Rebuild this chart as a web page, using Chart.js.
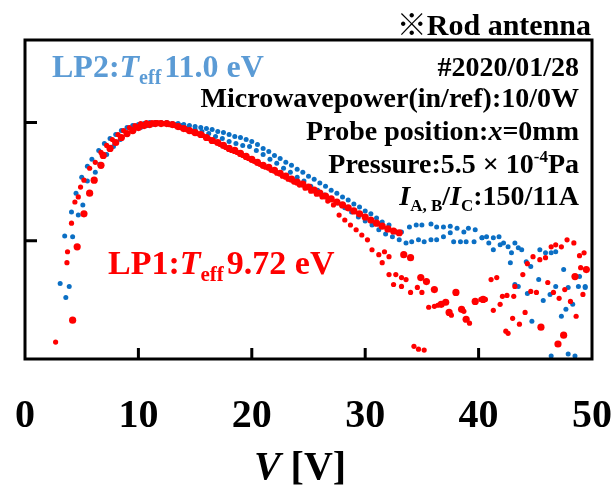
<!DOCTYPE html>
<html>
<head>
<meta charset="utf-8">
<script src="https://cdn.jsdelivr.net/npm/chart.js@4.4.1/dist/chart.umd.min.js"></script>
<style>
  html, body { margin: 0; padding: 0; background: #fff; }
  #wrap { width: 616px; height: 487px; }
</style>
</head>
<body>
<div id="wrap"><canvas id="myChart" width="616" height="487"></canvas></div>
<script>
// LP1 (red), first sweep - bigger dots
const lp1aV = [4.2,4.6,5.2,5.7,6.1,6.7,6.9,7.5,8.0,8.5,9.0,9.5,10.0,10.5,11.0,11.5,12.0,12.5,13.0,13.5,14.0,14.5,15.0,15.5,16.0,16.5,17.0,17.5,18.0,18.5,19.0,19.5,20.0,20.5,21.0,21.5,22.0,22.5,23.0,23.5,24.0,24.5,25.0,25.5,26.0,26.5,27.0,27.5,28.0,28.5,29.0,29.5,30.0,30.5,31.0,31.5,32.0,32.5,33.0,33.4,34.0,34.9,35.4,36.1,36.7,37.1,37.4,38.0,38.5,38.9,39.7,40.4,45.5,47.0,47.5,48.5,49.5];
const lp1aY = [0.0213,0.089,0.169,0.253,0.326,0.435,0.528,0.605,0.679,0.748,0.808,0.857,0.908,0.944,0.962,0.981,0.981,0.981,0.962,0.926,0.890,0.857,0.824,0.793,0.748,0.706,0.679,0.641,0.605,0.582,0.549,0.518,0.489,0.461,0.435,0.419,0.395,0.373,0.352,0.332,0.314,0.302,0.285,0.268,0.253,0.239,0.226,0.213,0.201,0.190,0.179,0.169,0.159,0.150,0.141,0.133,0.126,0.121,0.117,0.0763,0.072,0.0489,0.0452,0.0387,0.029,0.0302,0.0248,0.0366,0.0263,0.0217,0.0307,0.0319,0.0186,0.0134,0.0159,0.0498,0.0571];

// LP1 (red), second sweep - small dots
const lp1bV = [2.7,3.7,3.75,4.1,4.4,4.7,4.9,5.2,5.7,6.2,6.7,7.2,7.7,8.2,8.7,9.2,9.7,10.2,10.7,11.2,11.7,12.2,12.7,13.2,13.7,14.2,14.7,15.2,15.7,16.2,16.7,17.2,17.7,18.2,18.7,19.2,19.7,20.2,20.7,21.2,21.7,22.2,22.7,23.2,23.7,24.2,24.7,25.2,25.7,26.2,26.7,27.2,27.7,28.2,28.7,29.2,29.7,30.2,30.6,31.2,31.7,32.1,31.5,32.1,32.7,33.2,33.6,32.5,33.2,34.0,34.6,35.0,35.6,36.1,36.4,37.6,38.7,39.2,40.2,40.6,41.1,41.6,41.3,41.9,42.1,42.5,42.6,43.1,43.0,42.4,43.6,44.1,43.2,43.9,44.3,44.8,45.4,45.9,46.4,46.8,47.3,47.8,48.4,48.9,49.3,49.0,49.2,44.6,45.1,46.1,46.6,47.1,47.6,48.1,48.6,34.3,34.7,35.2];
const lp1bY = [0.0139,0.0653,0.0808,0.141,0.213,0.235,0.285,0.326,0.411,0.461,0.560,0.641,0.720,0.793,0.857,0.908,0.944,0.981,1.0,1.0,1.0,0.981,0.962,0.944,0.908,0.873,0.840,0.808,0.778,0.734,0.692,0.653,0.616,0.582,0.560,0.528,0.498,0.470,0.444,0.419,0.395,0.373,0.352,0.332,0.314,0.296,0.279,0.263,0.248,0.235,0.217,0.201,0.165,0.150,0.136,0.124,0.112,0.102,0.084,0.0763,0.0808,0.0734,0.0653,0.0518,0.0518,0.0489,0.047,0.0427,0.0411,0.0366,0.0403,0.0366,0.0274,0.0279,0.0285,0.0235,0.0253,0.0201,0.0319,0.0319,0.047,0.0489,0.0258,0.029,0.0339,0.0345,0.0165,0.0339,0.0221,0.0172,0.0197,0.0248,0.0411,0.0518,0.0641,0.0734,0.0692,0.072,0.089,0.0925,0.089,0.102,0.096,0.0748,0.0792,0.0593,0.0352,0.0373,0.0366,0.0444,0.0366,0.0326,0.0387,0.0307,0.023,0.0128,0.0121,0.0119];

// LP2 (blue), first sweep
const lp2aV = [3.1,3.5,4.1,4.5,5.0,5.5,5.9,6.5,7.0,7.5,8.0,8.5,9.0,9.5,10.0,10.5,11.0,11.5,12.0,12.5,13.0,13.5,14.0,14.5,15.0,15.5,16.0,16.5,17.0,17.5,18.0,18.5,19.0,19.5,20.0,20.5,21.0,21.5,22.0,22.5,23.0,23.5,24.0,24.5,25.0,25.5,26.0,26.5,27.0,27.5,28.0,28.5,29.0,29.5,30.0,30.5,31.0,31.5,32.1,32.7,33.2,33.9,34.5,35.0,35.8,36.3,36.9,37.5,38.1,38.7,39.1,39.7,40.3,40.7,41.3,41.8,42.2,42.6,43.2,43.5,43.8,44.2,44.6,45.4,45.9,46.4,46.8,47.5,48.5,49.4];
const lp2aY = [0.0435,0.110,0.175,0.253,0.345,0.427,0.489,0.582,0.666,0.734,0.793,0.857,0.908,0.944,0.962,0.981,1.0,1.0,1.0,1.0,0.981,0.981,0.962,0.944,0.926,0.908,0.890,0.873,0.840,0.824,0.793,0.763,0.748,0.720,0.692,0.653,0.605,0.571,0.528,0.498,0.461,0.435,0.403,0.380,0.352,0.332,0.308,0.290,0.268,0.253,0.235,0.221,0.205,0.193,0.179,0.169,0.156,0.144,0.136,0.119,0.119,0.131,0.136,0.136,0.139,0.131,0.131,0.133,0.128,0.119,0.128,0.124,0.106,0.108,0.106,0.108,0.096,0.089,0.096,0.0873,0.084,0.0666,0.0605,0.084,0.0792,0.0792,0.0808,0.0571,0.0498,0.0411];

// LP2 (blue), second sweep
const lp2bV = [3.6,3.9,4.2,4.7,5.1,5.5,6.2,6.6,7.2,7.8,8.4,9.0,9.6,10.2,10.8,11.4,12.0,12.6,13.2,13.8,14.4,15.0,15.6,16.2,16.8,17.4,18.0,18.6,19.2,19.8,20.4,21.0,21.6,22.2,22.8,23.4,24.0,24.6,25.2,25.8,26.4,27.0,27.6,28.2,28.8,29.4,30.0,30.6,31.2,31.8,32.4,33.0,33.6,34.1,34.7,35.2,35.8,36.3,36.9,37.5,37.8,38.4,38.9,39.6,40.3,40.9,41.3,41.9,42.8,42.9,43.2,43.5,44.3,44.7,45.3,45.7,46.3,46.8,47.3,47.7,47.9,48.3,48.8,48.9,49.4,46.4,47.9,48.5];
const lp2bY = [0.0332,0.0411,0.108,0.165,0.201,0.320,0.380,0.444,0.538,0.628,0.720,0.793,0.857,0.908,0.944,0.962,0.981,0.981,0.962,0.944,0.908,0.873,0.840,0.808,0.763,0.734,0.692,0.666,0.641,0.628,0.582,0.538,0.489,0.452,0.411,0.380,0.345,0.320,0.290,0.268,0.244,0.226,0.209,0.190,0.175,0.159,0.147,0.136,0.124,0.114,0.108,0.102,0.096,0.098,0.102,0.098,0.102,0.102,0.108,0.117,0.098,0.098,0.098,0.098,0.106,0.096,0.084,0.0925,0.0653,0.0792,0.0427,0.0411,0.0359,0.0209,0.047,0.0313,0.0352,0.0411,0.023,0.0263,0.0403,0.029,0.0411,0.0498,0.0403,0.0106,0.011,0.0106];

const xTicks = [0, 10, 20, 30, 40, 50];
const yInnerTicks = [0.1, 1];

const serif = '"Liberation Serif", "Times New Roman", "Noto Sans CJK JP", serif';
const RED = '#ff0000';
const BLUE = '#0b6fc4';

function toPoints(xs, ys) {
    return xs.map(function (v, i) { return { x: v, y: ys[i] }; });
}

// draws a row of text pieces, each piece can be italic / sub / sup
function drawRuns(ctx, runs, x, y, size, align, color) {
    let total = 0;
    runs.forEach(function (r) {
        let s = (r.sub || r.sup) ? Math.round(size * 0.62) : size;
        r.font = (r.it ? 'italic ' : '') + 'bold ' + s + 'px ' + serif;
        ctx.font = r.font;
        r.w = ctx.measureText(r.t).width + (r.gap || 0);
        total += r.w;
    });
    let cx = x;
    if (align === 'right') cx = x - total;
    if (align === 'center') cx = x - total / 2;
    ctx.fillStyle = color;
    ctx.textAlign = 'left';
    ctx.textBaseline = 'alphabetic';
    runs.forEach(function (r) {
        ctx.font = r.font;
        let dy = r.sub ? size * 0.22 : (r.sup ? -size * 0.38 : 0);
        ctx.fillText(r.t, cx, y + dy);
        cx += r.w;
    });
}

const framePlugin = {
    id: 'frame',
    afterDatasetsDraw(chart) {
        const ctx = chart.ctx;
        const a = chart.chartArea;
        const xs = chart.scales.x;
        const ys = chart.scales.y;
        ctx.save();
        ctx.strokeStyle = '#000';
        ctx.lineWidth = 3;
        ctx.strokeRect(a.left, a.top, a.right - a.left, a.bottom - a.top);
        // inner ticks
        ctx.beginPath();
        xTicks.slice(1, -1).forEach(function (t) {
            let px = xs.getPixelForValue(t);
            ctx.moveTo(px, a.bottom);
            ctx.lineTo(px, a.bottom - 11);
        });
        yInnerTicks.forEach(function (t) {
            let py = ys.getPixelForValue(t);
            ctx.moveTo(a.left, py);
            ctx.lineTo(a.left + 12, py);
        });
        ctx.stroke();
        ctx.restore();
    },
    afterDraw(chart) {
        const ctx = chart.ctx;
        ctx.save();
        drawRuns(ctx, [{ t: '※Rod antenna' }], 591, 35, 30, 'right', '#000');

        drawRuns(ctx, [{ t: 'LP2:' }, { t: 'T', it: true }, { t: 'eff', sub: true, gap: 3 }, { t: '11.0 eV' }], 52, 77, 32, 'left', '#5b9bd5');
        drawRuns(ctx, [{ t: 'LP1:' }, { t: 'T', it: true }, { t: 'eff', sub: true, gap: 3 }, { t: '9.72 eV' }], 108, 274, 34, 'left', RED);

        const rx = 579;
        drawRuns(ctx, [{ t: '#2020/01/28' }], rx, 76, 28, 'right', '#000');
        drawRuns(ctx, [{ t: 'Microwavepower(in/ref):10/0W' }], rx, 107, 28, 'right', '#000');
        drawRuns(ctx, [{ t: 'Probe position:' }, { t: 'x', it: true }, { t: '=0mm' }], rx, 140, 28, 'right', '#000');
        drawRuns(ctx, [{ t: 'Pressure:5.5 × 10' }, { t: '-4', sup: true }, { t: 'Pa' }], rx, 173, 28, 'right', '#000');
        drawRuns(ctx, [{ t: 'I', it: true }, { t: 'A, B', sub: true }, { t: '/' }, { t: 'I', it: true }, { t: 'C', sub: true }, { t: ':150/11A' }], rx, 205, 28, 'right', '#000');

        // axis title
        drawRuns(ctx, [{ t: 'V', it: true }, { t: ' [V]' }], 300, 479, 40, 'center', '#000');
        ctx.restore();
    }
};

const ctx = document.getElementById('myChart').getContext('2d');

let myChart = new Chart(ctx, {
    type: 'scatter',
    data: {
        datasets: [{
            label: 'LP1 a',
            data: toPoints(lp1aV, lp1aY),
            backgroundColor: RED,
            borderWidth: 0,
            pointRadius: 3.6
        }, {
            label: 'LP1 b',
            data: toPoints(lp1bV, lp1bY),
            backgroundColor: RED,
            borderWidth: 0,
            pointRadius: 2.6
        }, {
            label: 'LP2 a',
            data: toPoints(lp2aV, lp2aY),
            backgroundColor: BLUE,
            borderWidth: 0,
            pointRadius: 2.5
        }, {
            label: 'LP2 b',
            data: toPoints(lp2bV, lp2bY),
            backgroundColor: BLUE,
            borderWidth: 0,
            pointRadius: 2.5
        }]
    },
    options: {
        responsive: false,
        animation: false,
        layout: {
            padding: { left: 25, right: 24, top: 40, bottom: 0 }
        },
        plugins: {
            legend: { display: false },
            tooltip: { enabled: false }
        },
        scales: {
            x: {
                type: 'linear',
                min: 0,
                max: 50,
                afterBuildTicks: function (scale) {
                    scale.ticks = xTicks.map(function (v) { return { value: v }; });
                },
                afterFit: function (scale) {
                    scale.height = 128;
                    // labels may hang over the frame, as in the original
                    scale.paddingLeft = 0;
                    scale.paddingRight = 0;
                },
                grid: { display: false },
                border: { display: false },
                ticks: {
                    padding: 26,
                    color: '#000',
                    font: { family: serif, size: 40, weight: 'bold' }
                }
            },
            y: {
                type: 'logarithmic',
                display: false,
                min: 0.01,
                max: 5
            }
        }
    },
    plugins: [framePlugin]
});
</script>
</body>
</html>
